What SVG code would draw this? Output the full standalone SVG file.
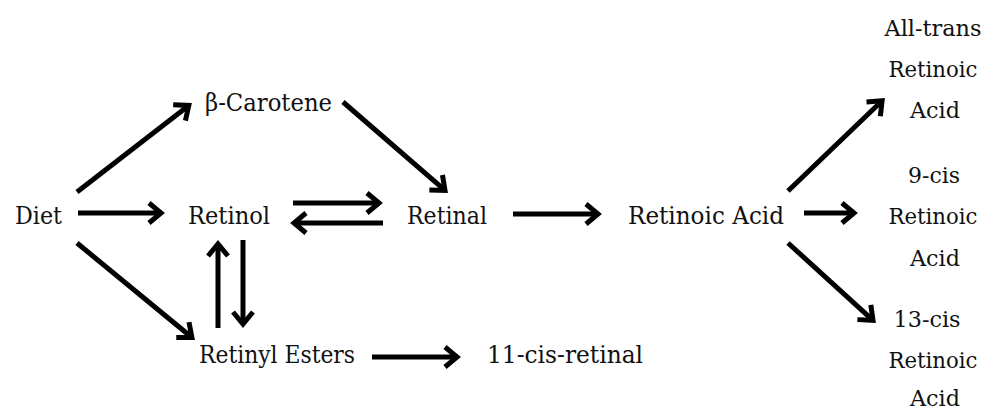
<svg xmlns="http://www.w3.org/2000/svg" width="986" height="412" viewBox="0 0 986 412">
  <style>
    text { font-family: "DejaVu Serif", "Liberation Serif", serif; font-size: 25px; fill: #111; }
    .col { text-anchor: middle; font-size: 22px; }
    .arrow { fill: none; stroke: #000; stroke-width: 5; stroke-linecap: butt; marker-end: url(#head); }
  </style>
  <defs>
    <marker id="head" viewBox="-16 -13 22 26" refX="0" refY="0" markerWidth="22" markerHeight="26" markerUnits="userSpaceOnUse" orient="auto">
      <path d="M-12,-10 L0,0 L-12,10" fill="none" stroke="#000" stroke-width="5" stroke-linejoin="miter"/>
    </marker>
  </defs>
  <rect width="986" height="412" fill="#fff"/>

  <g id="connectors">
    <path class="arrow" d="M77,192 L188.8,105.4"/>
    <path class="arrow" d="M78,213 L161,213"/>
    <path class="arrow" d="M77,243 L191.9,337.5"/>
    <path class="arrow" d="M343,102 L445,190.4"/>
    <path class="arrow" d="M293,203 L379,203"/>
    <path class="arrow" d="M383,223 L294,223"/>
    <path class="arrow" d="M218,328 L218,244"/>
    <path class="arrow" d="M243,240 L243,324"/>
    <path class="arrow" d="M513,214 L598,214"/>
    <path class="arrow" d="M372,357 L457,357"/>
    <path class="arrow" d="M788,191 L882.1,100.8"/>
    <path class="arrow" d="M804,213 L854,213"/>
    <path class="arrow" d="M788,243 L873,320.3"/>
  </g>

  <g id="diet"><text x="15" y="224" textLength="47" lengthAdjust="spacingAndGlyphs">Diet</text></g>
  <g id="beta-carotene"><text x="205" y="111" textLength="127" lengthAdjust="spacingAndGlyphs">β-Carotene</text></g>
  <g id="retinol"><text x="188" y="224" textLength="82" lengthAdjust="spacingAndGlyphs">Retinol</text></g>
  <g id="retinal"><text x="407" y="224" textLength="80" lengthAdjust="spacingAndGlyphs">Retinal</text></g>
  <g id="retinoic-acid"><text x="628" y="224" textLength="156" lengthAdjust="spacingAndGlyphs">Retinoic Acid</text></g>
  <g id="retinyl-esters"><text x="199" y="363" textLength="156" lengthAdjust="spacingAndGlyphs">Retinyl Esters</text></g>
  <g id="cis11-retinal"><text x="487" y="363" textLength="156" lengthAdjust="spacingAndGlyphs">11-cis-retinal</text></g>

  <g id="all-trans-ra">
    <text class="col" x="933" y="36" textLength="97" lengthAdjust="spacingAndGlyphs">All-trans</text>
    <text class="col" x="933" y="77" textLength="89" lengthAdjust="spacingAndGlyphs">Retinoic</text>
    <text class="col" x="935" y="118" textLength="50" lengthAdjust="spacingAndGlyphs">Acid</text>
  </g>
  <g id="cis9-ra">
    <text class="col" x="934" y="183" textLength="52" lengthAdjust="spacingAndGlyphs">9-cis</text>
    <text class="col" x="933" y="224" textLength="89" lengthAdjust="spacingAndGlyphs">Retinoic</text>
    <text class="col" x="935" y="266" textLength="50" lengthAdjust="spacingAndGlyphs">Acid</text>
  </g>
  <g id="cis13-ra">
    <text class="col" x="927" y="327" textLength="67" lengthAdjust="spacingAndGlyphs">13-cis</text>
    <text class="col" x="933" y="368" textLength="89" lengthAdjust="spacingAndGlyphs">Retinoic</text>
    <text class="col" x="935" y="406" textLength="50" lengthAdjust="spacingAndGlyphs">Acid</text>
  </g>
</svg>
